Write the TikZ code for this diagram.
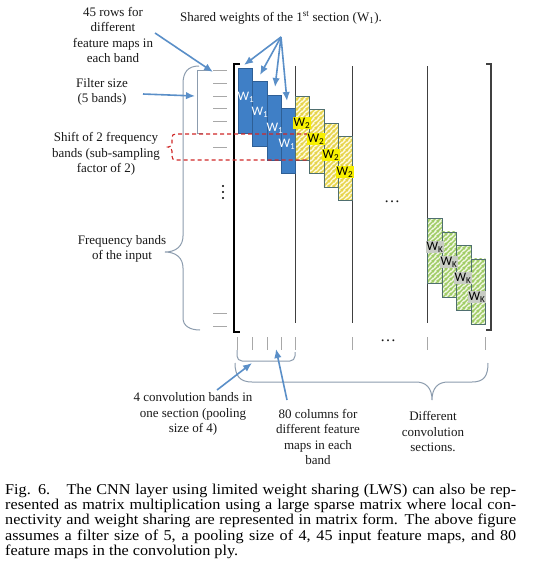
\documentclass[tikz,border=0pt]{standalone}
\usepackage{fontspec}
\setmainfont{Liberation Serif}
\newfontfamily\wfont{Carlito}
\newfontfamily\capfont[FakeStretch=1.08]{Liberation Serif}
\usetikzlibrary{arrows.meta,patterns.meta}
\definecolor{boxblue}{HTML}{3F7FC6}
\definecolor{blueedge}{HTML}{2E5F96}
\definecolor{arrowblue}{HTML}{5A8FC8}
\definecolor{tickgray}{HTML}{A8A8A8}
\definecolor{bracegray}{HTML}{8C9CAE}
\definecolor{dashred}{HTML}{D02828}
\definecolor{hatchedge}{HTML}{4F6F6F}
\definecolor{ybg}{HTML}{FFFBE0}
\definecolor{ystripe}{HTML}{E6D44C}
\definecolor{gbg}{HTML}{F2F8E6}
\definecolor{gstripe}{HTML}{A0CC66}
\definecolor{ylabel}{HTML}{F7F000}
\definecolor{glabel}{HTML}{C8CCC4}
\definecolor{matline}{HTML}{404040}
\tikzdeclarepattern{
  name=fatstripes,
  type=uncolored,
  bounding box={(0pt,0pt) and (4.5pt,4.5pt)},
  tile size={(4.5pt,4.5pt)},
  code={
    \draw[line width=1.6pt] (-1pt,-1pt) -- (5.5pt,5.5pt);
    \draw[line width=1.6pt] (-1pt,3.5pt) -- (1pt,5.5pt);
    \draw[line width=1.6pt] (3.5pt,-1pt) -- (5.5pt,1pt);
  }
}
\begin{document}
\begin{tikzpicture}[x=1pt,y=-1pt,
  lbl/.style={font=\fontsize{13}{15.5}\selectfont, align=center, inner sep=0pt, text=black!90},
  arr/.style={draw=arrowblue, line width=1.6pt, -{Latex[length=9pt,width=7.5pt]}},
  tick/.style={draw=tickgray, line width=0.9pt},
  brace/.style={draw=bracegray, line width=1pt},
  matl/.style={draw=matline, line width=1pt},
  bluebox/.style={draw=blueedge, fill=boxblue, line width=0.8pt, minimum width=14.25pt, minimum height=65pt, inner sep=0pt, anchor=north west},
  ybox/.style={draw=hatchedge, preaction={fill=ybg}, pattern=fatstripes, pattern color=ystripe, line width=0.8pt, minimum width=14.25pt, minimum height=64pt, inner sep=0pt, anchor=north west},
  gbox/.style={draw=hatchedge, preaction={fill=gbg}, pattern=fatstripes, pattern color=gstripe, line width=0.8pt, minimum width=14.5pt, minimum height=65pt, inner sep=0pt, anchor=north west},
  wl/.style={font=\wfont\fontsize{13}{13}\selectfont, inner sep=0.7pt},
  wlb/.style={wl, text=white},
  wly/.style={wl, fill=ylabel, text=black},
  wlg/.style={wl, fill=glabel, text=black},
  dashbox/.style={draw=dashred, line width=1.1pt, dash pattern=on 4pt off 3pt}
]
\useasboundingbox (0,0) rectangle (540,587);
\fill[white] (0,0) rectangle (540,587);

% matrix brackets and section lines
\draw[line width=1.1pt, black] (240,64) -- (234,64) -- (234,332) -- (240,332);
\draw[line width=1.1pt, matline] (486,64) -- (491,64) -- (491,330) -- (486,330);
\foreach \x in {295,352,427} \draw[matl] (\x,66) -- (\x,323);

% row ticks
\foreach \y in {70,83,96,108,121,147,313,326} \draw[tick] (213,\y) -- (227,\y);
\foreach \y in {186,192,198} \fill (223,\y) circle (1.1);

% column ticks
\foreach \x in {237,252,267,281,295,352,427,485} \draw[tick] (\x,337) -- (\x,350);

% left braces
\draw[brace] (199,66) .. controls (188,66) and (183,72) .. (183,84) -- (183,236)
  .. controls (183,246) and (176,252) .. (165,252)
  .. controls (176,252) and (183,258) .. (183,268) -- (183,318)
  .. controls (183,326) and (190,330) .. (200,330);
\draw[brace] (209,70) -- (197,70) -- (197,133) -- (203,133);

% bottom brackets
\draw[brace, rounded corners=5pt] (237,350) -- (237,361) -- (295,361) -- (295,352);
\draw[brace] (235,363) .. controls (235,376) and (240,382) .. (252,382) -- (416,382)
  .. controls (426,382) and (432,388) .. (432,400)
  .. controls (432,388) and (438,382) .. (448,382) -- (472,382)
  .. controls (484,382) and (488,376) .. (488,363);

% blue boxes
\node[bluebox] (b1) at (238,68) {};
\node[bluebox] (b2) at (252.25,81.3) {};
\node[bluebox] (b3) at (266.5,94.6) {};
\node[bluebox] (b4) at (280.75,107.9) {};
% yellow boxes
\node[ybox] (y1) at (295,96) {};
\node[ybox] (y2) at (309.25,109.3) {};
\node[ybox] (y3) at (323.5,122.6) {};
\node[ybox] (y4) at (337.75,135.9) {};
% green boxes
\node[gbox] (g1) at (427,218) {};
\node[gbox] (g2) at (441.5,231.5) {};
\node[gbox] (g3) at (456,245) {};
\node[gbox] (g4) at (470.5,258.5) {};

% red dashed shift marker
\draw[dashbox] (308,134) -- (176,134) .. controls (173,134) and (172,135) .. (172,138) -- (172,143)
  .. controls (172,146) and (170,147) .. (168,147)
  .. controls (170,147) and (172,148) .. (172,151) -- (172,156)
  .. controls (172,159) and (173,160) .. (176,160) -- (308,160);

% weight labels
\node[wlb] (lb1) at (246,97) {W\textsubscript{1}};
\node[wlb] (lb2) at (260,112) {W\textsubscript{1}};
\node[wlb] (lb3) at (275,128) {W\textsubscript{1}};
\node[wlb] (lb4) at (287,144) {W\textsubscript{1}};
\node[wly] (ly1) at (302,123) {W\textsubscript{2}};
\node[wly] (ly2) at (316,139) {W\textsubscript{2}};
\node[wly] (ly3) at (331,155) {W\textsubscript{2}};
\node[wly] (ly4) at (345,172) {W\textsubscript{2}};
\node[wlg] (lg1) at (435,247) {W\textsubscript{K}};
\node[wlg] (lg2) at (449,262) {W\textsubscript{K}};
\node[wlg] (lg3) at (463,278) {W\textsubscript{K}};
\node[wlg] (lg4) at (477,297) {W\textsubscript{K}};

% dots
\node[lbl, font=\fontsize{16}{16}\selectfont] (d1) at (392,202) {\dots};
\node[lbl, font=\fontsize{16}{16}\selectfont] (d2) at (388,341) {\dots};

% text labels
\node[lbl] (rows) at (113,35) {45 rows for\\different\\feature maps in\\each band};
\node[lbl] (filt) at (102,92) {Filter size\\(5 bands)};
\node[lbl] (shift) at (106,154) {Shift of 2 frequency\\bands (sub-sampling\\factor of 2)};
\node[lbl] (freq) at (122,249) {Frequency bands\\of the input};
\node[lbl] (shared) at (281,18) {Shared weights of the 1\textsuperscript{st} section (W\textsubscript{1}).};
\node[lbl] (conv) at (193,414) {4 convolution bands in\\one section (pooling\\size of 4)};
\node[lbl] (cols) at (318,437) {80 columns for\\different feature\\maps in each\\band};
\node[lbl] (diff) at (433,432) {Different\\convolution\\sections.};

% arrows
\coordinate (rs) at (155,33);  \coordinate (re) at (213,72);
\coordinate (fs) at (143,94);  \coordinate (fe) at (195,96);
\coordinate (ss) at (281,37);
\coordinate (s1) at (244,65); \coordinate (s2) at (260,75);
\coordinate (s3) at (275,87); \coordinate (s4) at (287,101);
\coordinate (cs) at (217,390); \coordinate (ce) at (252,363);
\coordinate (ks) at (287,400); \coordinate (ke) at (276,349);
\draw[arr] (rs) -- (re);
\draw[arr] (fs) -- (fe);
\foreach \t in {s1,s2,s3,s4} \draw[arr] (ss) -- (\t);
\draw[arr] (cs) -- (ce);
\draw[arr] (ks) -- (ke);

% caption
\node[anchor=north west, text width=511pt, align=justify, inner sep=0pt,
  font=\capfont\fontsize{15}{15.3}\selectfont] (cap) at (5,483.5)
 {Fig. 6.\hspace{0.6em} The CNN layer using limited weight sharing (LWS) can also be rep-\linebreak
 resented as matrix multiplication using a large sparse matrix where local con-\linebreak
 nectivity and weight sharing are represented in matrix form. The above figure\linebreak
 assumes a filter size of 5, a pooling size of 4, 45 input feature maps, and 80\linebreak
 feature maps in the convolution ply.};
\end{tikzpicture}
\end{document}
